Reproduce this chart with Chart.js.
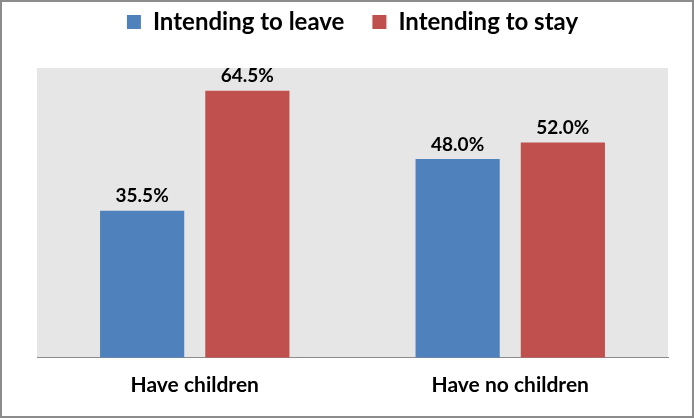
<!DOCTYPE html>
<html>
<head>
<meta charset="utf-8">
<script src="https://cdn.jsdelivr.net/npm/chart.js@4.4.0/dist/chart.umd.min.js"></script>
<style>
  html, body { margin: 0; padding: 0; background: #fff; }
  #wrap {
    position: relative;
    width: 690px;
    height: 414px;
    border: 2px solid #8c8c8c;
  }
</style>
</head>
<body>
<div id="wrap"><canvas id="chart" width="690" height="414"></canvas></div>
<script>
const categories = ["Have children", "Have no children"];
const seriesNames = ["Intending to leave", "Intending to stay"];
const leaveValues = [35.5, 48.0];
const stayValues = [64.5, 52.0];

const FONT = "Lato";

// grey plot background
const plotBg = {
  id: "plotBg",
  beforeDraw(chart) {
    const { ctx, chartArea: a } = chart;
    ctx.save();
    ctx.fillStyle = "#e6e6e6";
    ctx.fillRect(a.left, a.top, a.right - a.left, a.bottom - a.top);
    ctx.restore();
  }
};

// value labels above bars
const barLabels = {
  id: "barLabels",
  afterDatasetsDraw(chart) {
    const ctx = chart.ctx;
    ctx.save();
    ctx.font = "bold 19px " + FONT;
    ctx.fillStyle = "#000";
    ctx.textAlign = "center";
    ctx.textBaseline = "bottom";
    chart.data.datasets.forEach((ds, i) => {
      chart.getDatasetMeta(i).data.forEach((bar, j) => {
        ctx.fillText(ds.data[j].toFixed(1) + "%", bar.x, bar.y - 5);
      });
    });
    ctx.restore();
  }
};

// make legend take a fixed height
const legendHeight = {
  id: "legendHeight",
  beforeInit(chart) {
    const origFit = chart.legend.fit;
    chart.legend.fit = function () {
      origFit.bind(chart.legend)();
      this.height = 86;
    };
  }
};

new Chart(document.getElementById("chart"), {
  type: "bar",
  data: {
    labels: categories,
    datasets: [
      { label: seriesNames[0], data: leaveValues, backgroundColor: "#4f81bd" },
      { label: seriesNames[1], data: stayValues, backgroundColor: "#c0504d" }
    ]
  },
  options: {
    responsive: false,
    animation: false,
    categoryPercentage: 0.667,
    barPercentage: 0.8,
    layout: { padding: { left: 35, right: 24, top: -20, bottom: 3 } },
    plugins: {
      legend: {
        position: "top",
        labels: {
          boxWidth: 14,
          boxHeight: 14,
          padding: 28,
          color: "#000",
          font: { family: FONT, size: 24, weight: "bold" }
        }
      },
      tooltip: { enabled: false }
    },
    scales: {
      x: {
        grid: { display: false, drawTicks: false },
        border: { display: true, color: "#8c8c8c", width: 1 },
        ticks: {
          color: "#000",
          padding: 15,
          font: { family: FONT, size: 21, weight: "bold" }
        }
      },
      y: {
        display: false,
        min: 0,
        max: 70
      }
    }
  },
  plugins: [plotBg, barLabels, legendHeight]
});
</script>
</body>
</html>
